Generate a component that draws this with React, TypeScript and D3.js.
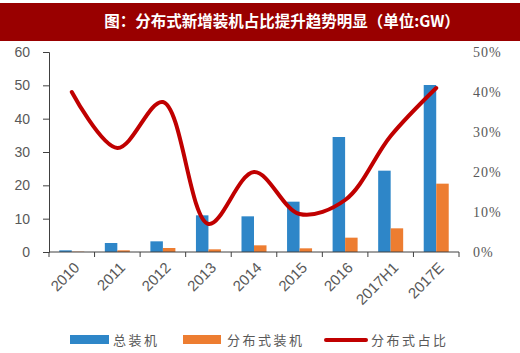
import React, { useEffect, useRef } from 'react'
import * as d3 from 'd3'

const categories = ['2010', '2011', '2012', '2013', '2014', '2015', '2016', '2017H1', '2017E']
const totalInstalled = [0.5, 2.7, 3.2, 11, 10.7, 15.1, 34.5, 24.4, 50.1]
const distributedInstalled = [0.1, 0.5, 1.2, 0.8, 2.0, 1.1, 4.3, 7.1, 20.5]
const distributedShare = [0.40, 0.26, 0.375, 0.07, 0.20, 0.095, 0.13, 0.29, 0.41]
const leftTicks = [0, 10, 20, 30, 40, 50, 60]
const rightTicks = [0, 0.1, 0.2, 0.3, 0.4, 0.5]

const W = 520
const H = 353

const App = () => {
  const ref = useRef<SVGGElement>(null)

  useEffect(() => {
    const g = d3.select(ref.current)
    g.selectAll('*').remove()

    const margin = { top: 52, right: 61, bottom: 101, left: 49 }
    const innerW = W - margin.left - margin.right
    const innerH = H - margin.top - margin.bottom

    // title bar
    g.append('rect').attr('x', 0).attr('y', 3).attr('width', W).attr('height', 38).attr('fill', '#990000')
    g.append('text')
      .attr('x', 282).attr('y', 27)
      .attr('text-anchor', 'middle')
      .attr('fill', '#fff')
      .attr('font-family', '"Noto Sans CJK SC", sans-serif')
      .attr('font-weight', 'bold')
      .attr('font-size', 15.5)
      .text('图：分布式新增装机占比提升趋势明显（单位:GW）')

    const plot = g.append('g').attr('transform', `translate(${margin.left},${margin.top})`)

    const x = d3.scaleBand().domain(categories).range([0, innerW])
    const y = d3.scaleLinear().domain([0, 60]).range([innerH, 0])
    const y2 = d3.scaleLinear().domain([0, 0.5]).range([innerH, 0])

    const barW = 12.5
    const cx = (c: string) => (x(c) as number) + x.bandwidth() / 2

    plot.selectAll('rect.total')
      .data(categories)
      .enter().append('rect')
      .attr('class', 'total')
      .attr('x', d => cx(d) - barW)
      .attr('y', (d, i) => y(totalInstalled[i]))
      .attr('width', barW)
      .attr('height', (d, i) => innerH - y(totalInstalled[i]))
      .attr('fill', '#2E86C8')

    plot.selectAll('rect.dist')
      .data(categories)
      .enter().append('rect')
      .attr('class', 'dist')
      .attr('x', d => cx(d))
      .attr('y', (d, i) => y(distributedInstalled[i]))
      .attr('width', barW)
      .attr('height', (d, i) => innerH - y(distributedInstalled[i]))
      .attr('fill', '#ED7D31')

    // left axis
    const yAxisG = plot.append('g').call(d3.axisLeft(y).tickValues(leftTicks).tickSize(6).tickPadding(13))
    yAxisG.select('.domain').attr('stroke', '#404040')
    yAxisG.selectAll('line').attr('stroke', '#404040')
    yAxisG.selectAll('text')
      .attr('font-family', 'Arial, "Liberation Sans", sans-serif')
      .attr('font-size', 14)
      .attr('fill', '#595959')

    // right axis (no line)
    const y2AxisG = plot.append('g')
      .attr('transform', `translate(${innerW},0)`)
      .call(d3.axisRight(y2).tickValues(rightTicks).tickFormat(d3.format('.0%')).tickSize(0).tickPadding(14))
    y2AxisG.select('.domain').remove()
    y2AxisG.selectAll('text')
      .attr('font-family', '"Liberation Serif", "Times New Roman", serif')
      .attr('font-size', 14)
      .attr('letter-spacing', 1)
      .attr('fill', '#595959')

    // bottom axis with ticks at band boundaries
    const bottom = plot.append('g').attr('transform', `translate(0,${innerH})`)
    bottom.append('line').attr('x1', 0).attr('x2', innerW).attr('stroke', '#404040')
    const bounds = d3.range(categories.length + 1).map(i => i * x.bandwidth())
    bottom.selectAll('line.tick')
      .data(bounds)
      .enter().append('line')
      .attr('class', 'tick')
      .attr('x1', d => d).attr('x2', d => d)
      .attr('y1', 0).attr('y2', 5)
      .attr('stroke', '#404040')
    bottom.selectAll('text')
      .data(categories)
      .enter().append('text')
      .attr('transform', d => `translate(${cx(d) + 5},${13}) rotate(-45)`)
      .attr('text-anchor', 'end')
      .attr('dy', '0.35em')
      .attr('font-family', 'Arial, "Liberation Sans", sans-serif')
      .attr('font-size', 15)
      .attr('fill', '#595959')
      .text(d => d)

    // share line
    const line = d3.line<number>()
      .x((d, i) => cx(categories[i]))
      .y(d => y2(d))
      .curve(d3.curveCatmullRom.alpha(0.5))
    plot.append('path')
      .datum(distributedShare)
      .attr('d', line)
      .attr('fill', 'none')
      .attr('stroke', '#C00000')
      .attr('stroke-width', 4)
      .attr('stroke-linecap', 'round')

    // legend
    const leg = g.append('g').attr('transform', 'translate(0,340)')
    const legFont = '"Noto Sans CJK SC", sans-serif'
    leg.append('rect').attr('x', 70).attr('y', -5).attr('width', 39).attr('height', 9).attr('fill', '#2E86C8')
    leg.append('text').attr('x', 113).attr('y', 0).attr('dy', '0.35em').text('总装机')
    leg.append('rect').attr('x', 183).attr('y', -5).attr('width', 38).attr('height', 9).attr('fill', '#ED7D31')
    leg.append('text').attr('x', 227).attr('y', 0).attr('dy', '0.35em').text('分布式装机')
    leg.append('line').attr('x1', 326).attr('x2', 366).attr('y1', 0).attr('y2', 0)
      .attr('stroke', '#C00000').attr('stroke-width', 4).attr('stroke-linecap', 'round')
    leg.append('text').attr('x', 371).attr('y', 0).attr('dy', '0.35em').text('分布式占比')
    leg.selectAll('text')
      .attr('font-family', legFont)
      .attr('font-size', 13)
      .attr('letter-spacing', 2.5)
      .attr('fill', '#595959')
  }, [])

  return (
    <svg width={W} height={H} style={{ position: 'absolute', left: 0, top: 0 }}>
      <rect width={W} height={H} fill="#fff" />
      <g ref={ref} />
    </svg>
  )
}

export default App
